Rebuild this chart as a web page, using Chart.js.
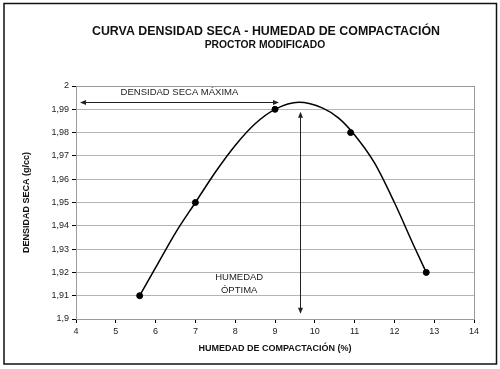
<!DOCTYPE html>
<html>
<head>
<meta charset="utf-8">
<script src="https://cdn.jsdelivr.net/npm/chart.js@4"></script>
<style>
  html, body { margin: 0; padding: 0; background: #fff; }
  #wrap { width: 500px; height: 369px; position: relative; }
</style>
</head>
<body>
<div id="wrap"><canvas id="chart" width="500" height="369"></canvas></div>
<script>
// ─── Data ────────────────────────────────────────────────────────────────
const humedad  = [5.6, 7.0, 9.0, 10.9, 12.8];          // % (ensayos)
const densidad = [1.91, 1.95, 1.99, 1.98, 1.92];       // g/cc

// curva de ajuste
const curvaX = [5.6, 6.0, 6.5, 7.0, 7.5, 8.0, 8.5, 9.0, 9.6, 10.2, 10.6, 11.0, 11.5, 12.0, 12.5, 12.8];
const curvaY = [1.910, 1.922, 1.937, 1.950, 1.963, 1.9745, 1.9838, 1.990, 1.993, 1.9905, 1.9862, 1.979, 1.967, 1.950, 1.931, 1.920];

const yTickLabels = ['1,9', '1,91', '1,92', '1,93', '1,94', '1,95', '1,96', '1,97', '1,98', '1,99', '2'];
const xTickLabels = ['4', '5', '6', '7', '8', '9', '10', '11', '12', '13', '14'];

const titulo    = 'CURVA DENSIDAD SECA - HUMEDAD DE COMPACTACIÓN';
const subtitulo = 'PROCTOR MODIFICADO';

// anotaciones (en unidades de los ejes)
const densMax  = { x0: 4.1, x1: 9.1, y: 1.9933, label: 'DENSIDAD SECA MÁXIMA', lx: 6.6, ly: 1.9972 };
const humOptima = { x: 9.63, y0: 1.989, y1: 1.9022, lines: ['HUMEDAD', 'ÓPTIMA'], lx: 8.1, ly: [1.918, 1.9124] };

// ─── Plugin: marco, títulos, flechas ─────────────────────────────────────
function arrowHead(ctx, x, y, dir) {
  const L = 6, W = 2.5;
  ctx.beginPath();
  if (dir === 'left')  { ctx.moveTo(x, y); ctx.lineTo(x + L, y - W); ctx.lineTo(x + L, y + W); }
  if (dir === 'right') { ctx.moveTo(x, y); ctx.lineTo(x - L, y - W); ctx.lineTo(x - L, y + W); }
  if (dir === 'up')    { ctx.moveTo(x, y); ctx.lineTo(x - W, y + L); ctx.lineTo(x + W, y + L); }
  if (dir === 'down')  { ctx.moveTo(x, y); ctx.lineTo(x - W, y - L); ctx.lineTo(x + W, y - L); }
  ctx.closePath();
  ctx.fill();
}

const decor = {
  id: 'decor',
  beforeDraw(chart) {
    const ctx = chart.ctx;
    ctx.save();
    ctx.fillStyle = '#fff';
    ctx.fillRect(0, 0, chart.width, chart.height);
    ctx.restore();
  },
  beforeDatasetsDraw(chart) {
    const { ctx, chartArea: a } = chart;
    ctx.save();
    ctx.strokeStyle = '#9a9a9a';
    ctx.lineWidth = 1;
    ctx.strokeRect(a.left + 0.5, a.top + 0.5, a.right - a.left, a.bottom - a.top);
    ctx.restore();
  },
  afterDraw(chart) {
    const { ctx, scales: { x, y } } = chart;
    ctx.save();
    // marco exterior
    ctx.strokeStyle = '#111';
    ctx.lineWidth = 1.5;
    ctx.strokeRect(4, 3.5, 492.5, 360.5);

    // títulos
    ctx.fillStyle = '#111';
    ctx.textAlign = 'center';
    ctx.textBaseline = 'middle';
    ctx.font = 'bold 12.4px "Liberation Sans", Arial, sans-serif';
    ctx.fillText(titulo, 266, 32);
    ctx.font = 'bold 10.3px "Liberation Sans", Arial, sans-serif';
    ctx.fillText(subtitulo, 265, 45.5);

    // flecha horizontal
    ctx.strokeStyle = '#222';
    ctx.fillStyle = '#222';
    ctx.lineWidth = 1;
    const hy = Math.round(y.getPixelForValue(densMax.y)) + 0.5;
    const hx0 = x.getPixelForValue(densMax.x0), hx1 = x.getPixelForValue(densMax.x1);
    ctx.beginPath(); ctx.moveTo(hx0 + 3, hy); ctx.lineTo(hx1 - 3, hy); ctx.stroke();
    arrowHead(ctx, hx0, hy, 'left');
    arrowHead(ctx, hx1, hy, 'right');

    // flecha vertical
    const vx = Math.round(x.getPixelForValue(humOptima.x)) + 0.5;
    const vy0 = y.getPixelForValue(humOptima.y0), vy1 = y.getPixelForValue(humOptima.y1);
    ctx.beginPath(); ctx.moveTo(vx, vy0 + 3); ctx.lineTo(vx, vy1 - 3); ctx.stroke();
    arrowHead(ctx, vx, vy0, 'up');
    arrowHead(ctx, vx, vy1, 'down');

    // textos
    ctx.fillStyle = '#222';
    ctx.font = '9.5px "Liberation Sans", Arial, sans-serif';
    ctx.fillText(densMax.label, x.getPixelForValue(densMax.lx), y.getPixelForValue(densMax.ly));
    humOptima.lines.forEach((t, i) => {
      ctx.fillText(t, x.getPixelForValue(humOptima.lx), y.getPixelForValue(humOptima.ly[i]));
    });
    ctx.restore();
  }
};

// ─── Chart ───────────────────────────────────────────────────────────────
const FONT = '"Liberation Sans", Arial, sans-serif';

new Chart(document.getElementById('chart'), {
  type: 'scatter',
  data: {
    datasets: [
      {
        label: 'curva',
        data: curvaX.map((v, i) => ({ x: v, y: curvaY[i] })),
        showLine: true,
        borderColor: '#000',
        borderWidth: 1.5,
        pointRadius: 0,
        cubicInterpolationMode: 'monotone',
      },
      {
        label: 'ensayos',
        data: humedad.map((v, i) => ({ x: v, y: densidad[i] })),
        showLine: false,
        backgroundColor: '#000',
        borderColor: '#000',
        pointRadius: 3,
      },
    ],
  },
  options: {
    responsive: false,
    animation: false,
    events: [],
    layout: { padding: { left: 21, right: 26, top: 86, bottom: 15 } },
    plugins: { legend: { display: false }, tooltip: { enabled: false }, title: { display: false } },
    scales: {
      x: {
        type: 'linear',
        min: 4, max: 14,
        afterFit: (s) => { s.height = 35; },
        ticks: {
          stepSize: 1,
          color: '#222',
          font: { family: FONT, size: 9 },
          padding: 3,
          callback: (v, i) => xTickLabels[i] ?? String(v),
        },
        grid: { drawOnChartArea: false, tickColor: '#000', tickLength: 4 },
        border: { color: '#000', width: 1 },
        title: {
          display: true,
          text: 'HUMEDAD DE COMPACTACIÓN (%)',
          color: '#111',
          font: { family: FONT, size: 9, weight: 'bold' },
          padding: 0,
        },
      },
      y: {
        min: 1.9, max: 2,
        afterFit: (s) => { s.width = 55; },
        ticks: {
          stepSize: 0.01,
          color: '#222',
          font: { family: FONT, size: 9 },
          padding: 3,
          callback: (v, i) => yTickLabels[i] ?? String(v).replace('.', ','),
        },
        grid: { color: '#b4b4b4', tickColor: '#000', tickLength: 4 },
        border: { color: '#000', width: 1 },
        title: {
          display: true,
          text: 'DENSIDAD SECA (g/cc)',
          color: '#111',
          font: { family: FONT, size: 9, weight: 'bold' },
          padding: 0,
        },
      },
    },
  },
  plugins: [decor],
});
</script>
</body>
</html>
